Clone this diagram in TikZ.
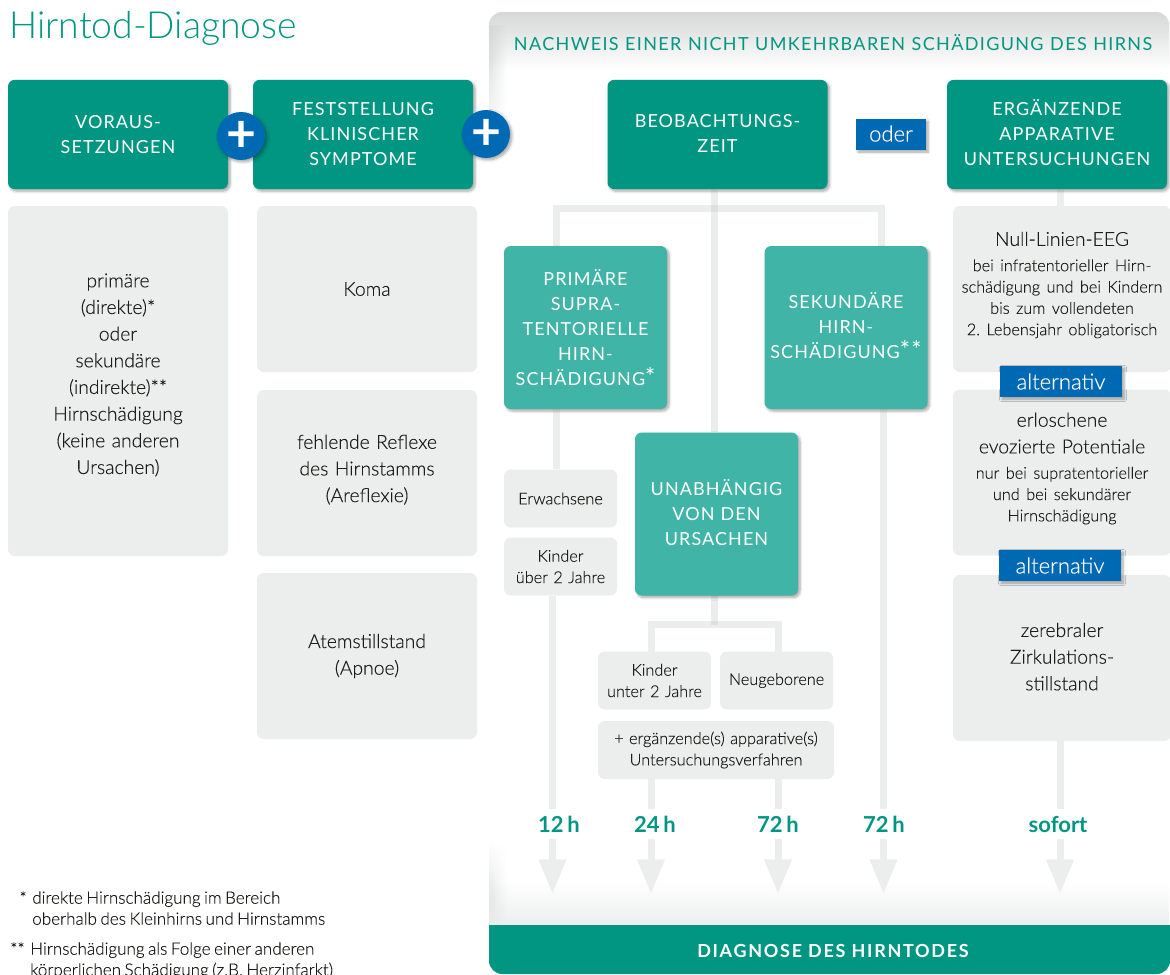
\documentclass[tikz,border=0pt]{standalone}
\usepackage{fontspec}
\setmainfont[WordSpace=0.75,FakeBold=0.2]{Lato Light}
\newfontfamily\titlefont{Lato Light}
\newfontfamily\capsfont[LetterSpace=6]{Lato}
\newfontfamily\wideheadfont[LetterSpace=7.5,WordSpace=1.1]{Lato}
\newfontfamily\boldfont{Lato}
\newfontfamily\plusfont[FakeBold=3]{Lato}
\usetikzlibrary{positioning,arrows.meta,fadings,shadows.blur}
\definecolor{hirnteal}{HTML}{009682}
\definecolor{hirnlight}{HTML}{40B4A6}
\definecolor{hirnblue}{HTML}{0069B4}
\definecolor{cardgray}{HTML}{ECEEED}
\definecolor{panelgray}{HTML}{D5D8D7}
\definecolor{bargray}{HTML}{8F9B95}
\definecolor{inktext}{HTML}{1D1D1B}
\newcommand{\smalltxt}{\par\vspace{3pt}\fontsize{12.2}{16}\selectfont}
\newcommand{\bigstars}[1]{\smash{\fontsize{18}{18}\selectfont #1}}

\begin{document}
\begin{tikzpicture}[x=0.75pt,y=-0.75pt,on grid]
    \tikzset{softshadow/.style={blur shadow={shadow xshift=1.5pt,shadow yshift=-1.5pt,shadow blur steps=6,shadow opacity=35}}}
    \tikzset{headbox/.style={fill=hirnteal,rounded corners=5pt,text=white,text width=165pt,minimum height=82pt,align=center,inner sep=0pt,font=\capsfont\fontsize{13.5}{18.75}\selectfont,softshadow}}
    \tikzset{lightbox/.style={fill=hirnlight,rounded corners=5pt,text=white,text width=122.25pt,minimum height=122.25pt,align=center,inner sep=0pt,font=\capsfont\fontsize{13.5}{18.75}\selectfont,softshadow}}
    \tikzset{card/.style={fill=cardgray,rounded corners=5pt,text=inktext,text width=165pt,minimum height=124.5pt,align=center,inner sep=0pt,font=\fontsize{14.5}{20}\selectfont}}
    \tikzset{smallcard/.style={card,text width=84.75pt,minimum height=43.5pt,font=\fontsize{12.2}{16}\selectfont}}
    \tikzset{tagbox/.style={fill=hirnblue,text=white,inner sep=0pt,minimum height=23.25pt,font=\fontsize{16.5}{18}\selectfont,softshadow}}
    \tikzset{plussign/.style={circle,fill=hirnblue,text=white,inner sep=0pt,minimum size=36pt,font=\plusfont\fontsize{37}{37}\selectfont,softshadow}}
    \tikzset{timelabel/.style={text=hirnteal,inner sep=0pt,minimum height=22.5pt,font=\boldfont\bfseries\fontsize{16.5}{18}\selectfont}}
    \tikzset{notetext/.style={anchor=north west,align=left,inner sep=0pt,text=inktext,font=\fontsize{12.8}{15.75}\selectfont}}
    \tikzset{bar/.style={line width=5.25pt,draw=bargray,draw opacity=.17}}
    \tikzset{flowarrow/.style={line width=5.25pt,draw=cardgray,-{Triangle[length=26pt,width=19.5pt]}}}
    \useasboundingbox (0,0) rectangle (1170,974);
    \shade[left color=panelgray,right color=white,path fading=south] (489,26) rectangle (507,150);
    \shade[left color=panelgray,right color=white,path fading=north] (489,840) rectangle (507,925);
    \fill[panelgray,path fading=south,rounded corners=10pt] (489,70) -- (489,12) -- (1170,12) [sharp corners] -- (1170,70) -- cycle;
    \fill[cardgray,path fading=north] (489,880) rectangle (1170,925);
    \fill[hirnteal,rounded corners=10pt] (489,925) -- (489,974) -- (1170,974) [sharp corners] -- (1170,925) -- cycle;
    \node[text=hirnteal,anchor=west,inner sep=0pt,font=\titlefont\fontsize{28}{30}\selectfont] (title) at (9,28.5) {Hirntod-Diagnose};
    \node[text=hirnteal,inner sep=0pt,font=\wideheadfont\fontsize{13.5}{16}\selectfont] (nachweis) at (833,43) {NACHWEIS EINER NICHT UMKEHRBAREN SCHÄDIGUNG DES HIRNS};
    \node[text=white,inner sep=0pt,font=\boldfont\bfseries\addfontfeature{LetterSpace=9.5}\fontsize{13.5}{16}\selectfont] (diagnose) at (833,951) {DIAGNOSE DES HIRNTODES};
    \coordinate (topl) at (556,208);
    \coordinate (topm) at (714.5,208);
    \coordinate (topr) at (881.5,208);
    \coordinate (subl) at (651,624.5);
    \coordinate (subr) at (778,624.5);
    \coordinate (endone) at (552.5,894);
    \coordinate (endtwo) at (651,894);
    \coordinate (endthree) at (778,894);
    \coordinate (endfour) at (883.5,894);
    \coordinate (endfive) at (1060,894);
    \node[timelabel] (hone) at (559,824) {12\,h};
    \node[timelabel] (htwo) at (655,824) {24\,h};
    \node[timelabel] (hthree) at (778,824) {72\,h};
    \node[timelabel] (hfour) at (884,824) {72\,h};
    \node[timelabel] (hfive) at (1058,824) {sofort};
    \node[headbox] (voraus) at (118,134.5) {VORAUS-\\SETZUNGEN};
    \node[headbox] (fest) [right = 183.75pt of voraus] {FESTSTELLUNG\\KLINISCHER\\SYMPTOME};
    \node[headbox] (beob) at (717.5,134.5) {BEOBACHTUNGS-\\ZEIT\vspace*{1.5pt}};
    \node[headbox] (erg) at (1057,134.5) {ERGÄNZENDE\\APPARATIVE\\UNTERSUCHUNGEN\vspace*{3pt}};
    \node[tagbox,minimum width=52.5pt] (oder) at (891,134.5) {\raisebox{1.5pt}{oder}};
    \node[card,minimum height=262.5pt] (prim) at (118,381) {primäre\\(direkte)*\\oder\\sekundäre\\(indirekte)**\\Hirnschädigung\\(keine anderen\\Ursachen)\vspace*{9pt}};
    \node[card] (koma) at (367,289) {Koma};
    \node[card] (reflex) [below = 138pt of koma] {fehlende Reflexe\\des Hirnstamms\\(Areflexie)\vspace*{5pt}};
    \node[card] (atem) [below = 137.25pt of reflex] {Atemstillstand\\(Apnoe)};
    \node[card,text width=163.5pt] (eeg) at (1062,289) {Null-Linien-EEG\smalltxt bei infratentorieller Hirn-\\schädigung und bei Kindern\\bis zum vollendeten\\2.~Lebensjahr obligatorisch\par\vspace*{6pt}};
    \node[card,text width=163.5pt] (evoz) at (1062,472.5) {erloschene\\evozierte Potentiale\smalltxt nur bei supratentorieller\\und bei sekundärer\\Hirnschädigung\par\vspace*{6pt}};
    \node[card,text width=163.5pt] (zirk) at (1062,658) {zerebraler\\Zirkulations-\\stillstand\vspace*{2pt}};
    \node[tagbox,minimum width=91.5pt] (alta) at (1061,381.5) {alternativ};
    \node[tagbox,minimum width=91.5pt] (altb) at (1060,565.5) {alternativ};
    \draw[bar] (topl |- 0,250) -- (topl) -- (topr) -- (topr |- 0,250);
    \draw[bar] (beob.south -| topm) -- (topm);
    \draw[bar] (topm) -- (topm |- 0,432);
    \draw[bar] (erg.south -| endfive) -- (eeg.north -| endfive);
    \draw[bar] (subl |- 0,655) -- (subl) -- (subr) -- (subr |- 0,655);
    \draw[bar] (topm |- 0,590) -- (topm |- subl);
    \node[lightbox] (supra) at (585.5,327.5) {PRIMÄRE\\SUPRA-\\TENTORIELLE\\HIRN-\\SCHÄDIGUNG\bigstars{*}};
    \node[lightbox] (sekund) at (846,327.5) {SEKUNDÄRE\\HIRN-\\SCHÄDIGUNG\bigstars{**}\vspace*{3.5pt}};
    \node[lightbox] (unabh) at (716.5,514) {UNABHÄNGIG\\VON DEN\\URSACHEN\vspace*{2.5pt}};
    \node[smallcard] (erw) at (560.5,498.5) {Erwachsene};
    \node[smallcard] (kueber) [below = 51pt of erw] {Kinder\\über 2 Jahre};
    \node[smallcard] (kunter) at (654.5,680.5) {Kinder\\unter 2 Jahre};
    \node[smallcard] (neu) [right = 91.5pt of kunter] {Neugeborene};
    \node[smallcard,text width=177pt] (extra) at (716,750) {+ ergänzende(s) apparative(s)\\Untersuchungsverfahren};
    \draw[bar] (supra.south -| topl) -- (erw.north -| topl);
    \draw[bar] (kueber.south -| endone) -- (hone.north -| endone);
    \draw[bar] (extra.south -| endtwo) -- (htwo.north -| endtwo);
    \draw[bar] (extra.south -| endthree) -- (hthree.north -| endthree);
    \draw[bar] (sekund.south -| endfour) -- (hfour.north -| endfour);
    \draw[bar] (zirk.south -| endfive) -- (hfive.north -| endfive);
    \draw[flowarrow] (hone.south -| endone) -- (endone);
    \draw[flowarrow] (htwo.south -| endtwo) -- (endtwo);
    \draw[flowarrow] (hthree.south -| endthree) -- (endthree);
    \draw[flowarrow] (hfour.south -| endfour) -- (endfour);
    \draw[flowarrow] (hfive.south -| endfive) -- (endfive);
    \node[plussign] (plusa) at (241,136) {+};
    \node[plussign] (plusb) at (486,134) {+};
    \node[notetext] (notea) at (32,891) {direkte Hirnschädigung im Bereich\\oberhalb des Kleinhirns und Hirnstamms};
    \node[notetext] (noteb) at (30,942) {Hirnschädigung als Folge einer anderen\\körperlichen Schädigung (z.B. Herzinfarkt)};
    \node[notetext,anchor=north east] (stara) at (27,891) {*};
    \node[notetext,anchor=north east] (starb) at (25,942) {**};
\end{tikzpicture}
\end{document}
